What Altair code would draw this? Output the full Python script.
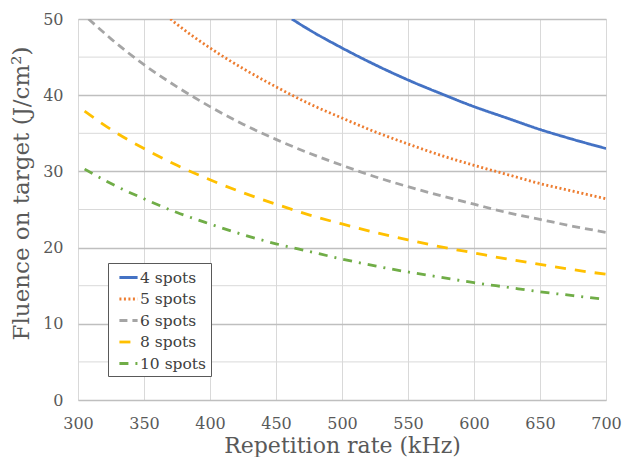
import altair as alt
import pandas as pd

series_names = ["4 spots", "5 spots", "6 spots", "8 spots", "10 spots"]
colors = ["#4472C4", "#ED7D31", "#A5A5A5", "#FFC000", "#70AD47"]
dashes = [[1, 0], [2, 2.5], [8, 5], [11, 9], [9, 7, 2, 7]]

rate_4 = [462, 475, 500, 525, 550, 575, 600, 625, 650, 675, 700]
flu_4 = [50.0, 48.6, 46.2, 44.0, 42.0, 40.2, 38.5, 37.0, 35.5, 34.2, 33.0]

rate_5 = [370, 375, 400, 425, 450, 475, 500, 525, 550, 575, 600, 625, 650, 675, 700]
flu_5 = [50.0, 49.3, 46.2, 43.5, 41.1, 38.9, 37.0, 35.2, 33.6, 32.1, 30.8, 29.6, 28.4, 27.4, 26.4]

rate_6 = [308, 325, 350, 375, 400, 425, 450, 475, 500, 525, 550, 575, 600, 625, 650, 675, 700]
flu_6 = [50.0, 47.4, 44.0, 41.1, 38.5, 36.2, 34.2, 32.4, 30.8, 29.3, 28.0, 26.8, 25.7, 24.6, 23.7, 22.8, 22.0]

rate_8 = [305, 325, 350, 375, 400, 425, 450, 475, 500, 525, 550, 575, 600, 625, 650, 675, 700]
flu_8 = [37.9, 35.5, 33.0, 30.8, 28.9, 27.2, 25.7, 24.3, 23.1, 22.0, 21.0, 20.1, 19.3, 18.5, 17.8, 17.1, 16.5]

rate_10 = [305, 325, 350, 375, 400, 425, 450, 475, 500, 525, 550, 575, 600, 625, 650, 675, 700]
flu_10 = [30.3, 28.4, 26.4, 24.6, 23.1, 21.7, 20.5, 19.5, 18.5, 17.6, 16.8, 16.1, 15.4, 14.8, 14.2, 13.7, 13.2]

minor_grid = [5, 15, 25, 35, 45]

rows = []
for name, rs, fs in zip(series_names,
                        [rate_4, rate_5, rate_6, rate_8, rate_10],
                        [flu_4, flu_5, flu_6, flu_8, flu_10]):
    for r, f in zip(rs, fs):
        rows.append({"series": name, "rate": r, "fluence": f})
df = pd.DataFrame(rows)

FONT = "DejaVu Serif"

xscale = alt.Scale(domain=[300, 700], nice=False)
yscale = alt.Scale(domain=[0, 50], nice=False)

minor = alt.Chart(pd.DataFrame({"y": minor_grid})).mark_rule(
    color="#d9d9d9", strokeWidth=1
).encode(y=alt.Y("y:Q", scale=yscale))

legend_common = dict(title=None, orient="none", legendX=30, legendY=244,
                     symbolType="stroke", symbolSize=330, symbolStrokeWidth=2.8,
                     symbolOffset=6,
                     fillColor="white", strokeColor="#595959", padding=4,
                     rowPadding=2.5, labelOffset=1,
                     labelFont=FONT, labelFontSize=15.5, labelColor="#404040")

lines = alt.Chart(df).mark_line(strokeWidth=2.8, interpolate="monotone", clip=True).encode(
    x=alt.X("rate:Q", scale=xscale,
            axis=alt.Axis(values=list(range(300, 701, 50)), title="Repetition rate (kHz)",
                          grid=True, gridColor="#d9d9d9", domain=False, ticks=False,
                          labelPadding=15, labelFlush=False, titlePadding=4,
                          labelFont=FONT, titleFont=FONT, titleFontSize=22)),
    y=alt.Y("fluence:Q", scale=yscale,
            axis=alt.Axis(values=[0, 10, 20, 30, 40, 50], title="Fluence on target (J/cm²)",
                          grid=True, gridColor="#bfbfbf", gridWidth=1.3, domain=False, ticks=False,
                          labelPadding=15, titleX=-57, titleY=174, titleBaseline="middle",
                          titleAlign="center", titleAngle=270,
                          labelFont=FONT, titleFont=FONT, titleFontSize=23)),
    color=alt.Color("series:N", scale=alt.Scale(domain=series_names, range=colors),
                    legend=alt.Legend(**legend_common)),
    strokeDash=alt.StrokeDash("series:N", scale=alt.Scale(domain=series_names, range=dashes),
                              legend=alt.Legend(**legend_common)),
)

chart = alt.layer(minor, lines).properties(
    width=528, height=381,
    autosize=alt.AutoSizeParams(type="none"),
    padding={"left": 70, "top": 11, "right": 16, "bottom": 57},
).configure_view(stroke=None).configure(
    background="white", font=FONT
).configure_axis(
    labelFontSize=16, labelColor="#595959",
    titleFontWeight="normal", titleColor="#595959",
)

chart.save("out.html", embed_options={"renderer": "svg", "actions": False})
